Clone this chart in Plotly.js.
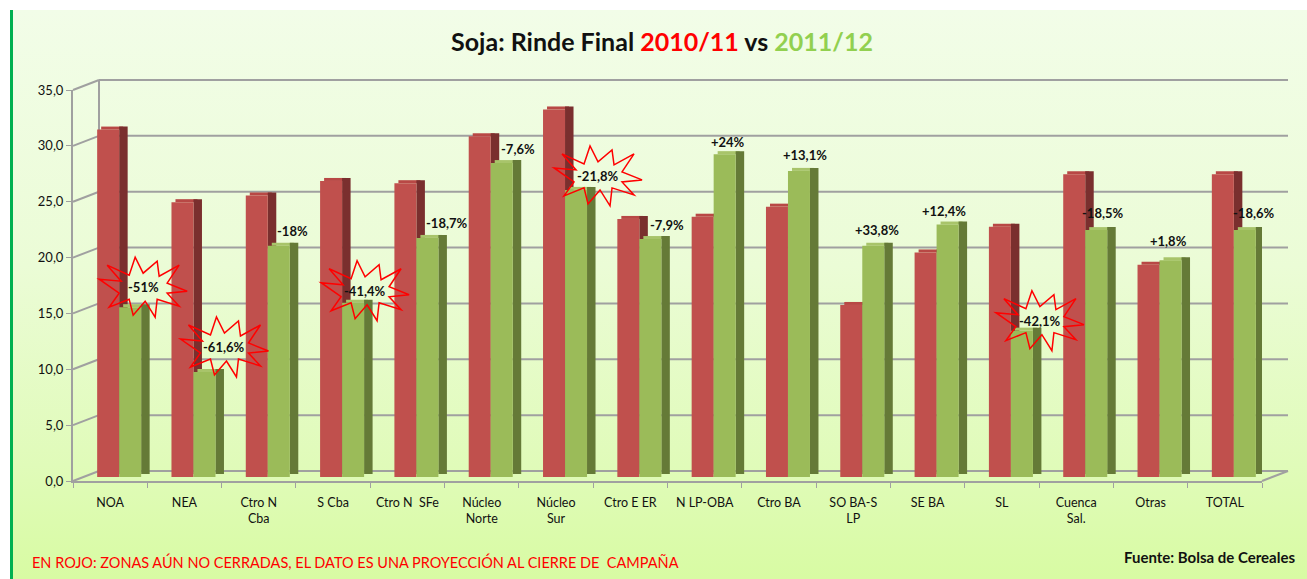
<!DOCTYPE html>
<html>
<head>
<meta charset="utf-8">
<script src="https://cdn.plot.ly/plotly-3.0.1.min.js"></script>
<style>
  html, body { margin: 0; padding: 0; background: #ffffff; }
  #wrap { position: relative; width: 1307px; height: 579px; background: #ffffff; overflow: hidden; }
  #bg { position: absolute; left: 10px; top: 10px; width: 1297px; height: 569px;
        border-left: 3px solid #00b050; box-sizing: border-box;
        background: linear-gradient(to bottom, #f2fde8 0%, #ebfcd6 45%, #e0fbb9 80%, #d8fba3 100%); }
  #chart { position: absolute; left: 0; top: 0; width: 1307px; height: 579px; }
</style>
</head>
<body>
<div id="wrap"><div id="bg"></div><div id="chart"></div></div>
<script>
// ---- data ----
const categories = ['NOA', 'NEA', 'Ctro N<br>Cba', 'S Cba', 'Ctro N  SFe', 'Núcleo<br>Norte', 'Núcleo<br>Sur',
  'Ctro E ER', 'N LP-OBA', 'Ctro BA', 'SO BA-S<br>LP', 'SE BA', 'SL', 'Cuenca<br>Sal.', 'Otras', 'TOTAL'];
const rinde2010_11 = [31.1, 24.6, 25.2, 26.5, 26.3, 30.5, 32.9, 23.1, 23.3, 24.2, 15.4, 20.1, 22.4, 27.1, 19.0, 27.1];
const rinde2011_12 = [15.2, 9.4, 20.7, 15.6, 21.4, 28.1, 25.7, 21.3, 28.9, 27.4, 20.7, 22.6, 13.1, 22.1, 19.4, 22.1];
const variacion = ['-51%', '-61,6%', '-18%', '-41,4%', '-18,7%', '-7,6%', '-21,8%', '-7,9%', '+24%', '+13,1%',
  '+33,8%', '+12,4%', '-42,1%', '-18,5%', '+1,8%', '-18,6%'];
const yTicks = [0, 5, 10, 15, 20, 25, 30, 35];
const yTickText = ['0,0', '5,0', '10,0', '15,0', '20,0', '25,0', '30,0', '35,0'];

// ---- layout tuning (pixels), not data ----
const labelDx = [33, 40, 34, 32, 40, 36, 42, 37, 23, 26, 24, 16, 38, 27, 18, 29];
const labelDy = [20, 25, 15, 12, 15, 14, 14, 14, 12, 16, 16, 14, 10, 17, 19, 17];
const burstIdx = [0, 1, 3, 6, 12];

const L = 73, R = 1262, T = 90, B = 481;
const W = R - L, H = B - T;
const pxPerCat = W / categories.length;
const pxPerUnit = H / 35;
const depthPx = 8.5, depthUpPx = 3;
const du = depthUpPx / pxPerUnit;
const cu = px => px / pxPerCat;

const xs = categories.map((c, i) => i);

function faces(vals, frontOff, front, side, top, name) {
  const fw = cu(22);
  return [
    { type: 'bar', x: xs, y: vals.map(() => du), base: vals, offset: frontOff + cu(4), width: fw,
      marker: { color: top, line: { width: 0 } }, yaxis: 'y2', hoverinfo: 'skip', showlegend: false },
    { type: 'bar', x: xs, y: vals, base: vals.map(() => du), offset: frontOff + fw, width: cu(depthPx),
      marker: { color: side, line: { width: 0 } }, yaxis: 'y2', hoverinfo: 'skip', showlegend: false },
    { type: 'bar', x: xs, y: vals, offset: frontOff, width: fw, name: name,
      marker: { color: front, line: { width: 0 } }, yaxis: 'y2', showlegend: false }
  ];
}

const data = [
  // invisible helper so the main y axis carries data and draws its labels
  { type: 'scatter', x: [0, 0], y: [0, 35], mode: 'markers', marker: { opacity: 0 }, hoverinfo: 'skip', showlegend: false },
  ...faces(rinde2010_11, cu(-13), '#c0504d', '#7a2f2e', '#b84845', '2010/11'),
  ...faces(rinde2011_12, cu(9), '#9bbb59', '#657a37', '#a8c46a', '2011/12')
];

// 3D frame (back wall) as shapes
const dxp = 26 / W, dyp = 10 / H;
const frameLine = { color: '#a0a0a0', width: 2 };
const shapes = [];
yTicks.forEach(v => {
  shapes.push({ type: 'line', xref: 'paper', yref: 'paper', x0: dxp, x1: 1 + dxp, y0: v / 35 + dyp, y1: v / 35 + dyp, line: frameLine, layer: 'below' });
  shapes.push({ type: 'line', xref: 'paper', yref: 'paper', x0: 0, x1: dxp, y0: v / 35, y1: v / 35 + dyp, line: frameLine, layer: 'below' });
});
shapes.push({ type: 'line', xref: 'paper', yref: 'paper', x0: dxp, x1: dxp, y0: dyp, y1: 1 + dyp, line: frameLine, layer: 'below' });
shapes.push({ type: 'line', xref: 'paper', yref: 'paper', x0: 1, x1: 1 + dxp, y0: 0, y1: dyp, line: frameLine, layer: 'below' });

// starbursts around selected labels
const star = [[-44, 8], [-22, 6], [-36, 22], [-14, 12], [-8, 30], [0, 14], [14, 26], [16, 11], [36, 22], [24, 4],
  [44, -4], [24, -6], [36, -19], [14, -12], [12, -30], [2, -14], [-10, -28], [-14, -12], [-34, -20], [-24, -6]];
burstIdx.forEach(i => {
  const cx = labelDx[i], cy = labelDy[i];
  const path = 'M' + star.map(p => (cx + p[0]) + ',' + (cy + p[1])).join(' L') + ' Z';
  shapes.push({ type: 'path', xref: 'x', yref: 'y2', xsizemode: 'pixel', ysizemode: 'pixel',
    xanchor: i, yanchor: rinde2011_12[i], path: path, line: { color: '#ff0000', width: 1.5 }, fillcolor: 'rgba(0,0,0,0)' });
});

const annotations = variacion.map((t, i) => ({
  x: i, y: rinde2011_12[i], xref: 'x', yref: 'y2', text: '<b>' + t + '</b>', showarrow: false,
  xshift: labelDx[i], yshift: labelDy[i], xanchor: 'center', yanchor: 'middle',
  font: { family: 'Lato, sans-serif', size: 13, color: '#111' }
}));
annotations.push({
  xref: 'paper', yref: 'paper', x: (30 - L) / W, y: (B - 562) / H, xanchor: 'left', yanchor: 'middle', showarrow: false,
  text: 'EN ROJO: ZONAS AÚN NO CERRADAS, EL DATO ES UNA PROYECCIÓN AL CIERRE DE  CAMPAÑA',
  font: { family: 'Lato, sans-serif', size: 14.5, color: '#ff0000' }
});
annotations.push({
  xref: 'paper', yref: 'paper', x: (1297 - L) / W, y: (B - 557) / H, xanchor: 'right', yanchor: 'middle', showarrow: false,
  text: '<b>Fuente: Bolsa de Cereales</b>',
  font: { family: 'Lato, sans-serif', size: 15, color: '#111' }
});

const layout = {
  width: 1307, height: 579,
  margin: { l: L, r: 1307 - R, t: T, b: 579 - B, pad: 0 },
  paper_bgcolor: 'rgba(0,0,0,0)', plot_bgcolor: 'rgba(0,0,0,0)',
  separators: ',.',
  barmode: 'overlay',
  title: {
    text: '<b>Soja: Rinde Final <span style="color:#ff0000">2010/11</span> vs <span style="color:#92d050">2011/12</span></b>',
    x: 662 / 1307, xref: 'container', xanchor: 'center', y: 1 - 42 / 579, yref: 'container', yanchor: 'middle',
    font: { family: 'Lato, sans-serif', size: 25, color: '#111' }
  },
  xaxis: {
    type: 'category', tickmode: 'array', tickvals: xs, ticktext: categories,
    range: [-0.5, categories.length - 0.5], showgrid: false, zeroline: false,
    showline: true, linecolor: '#a0a0a0', linewidth: 2,
    ticks: 'outside', tickson: 'boundaries', ticklen: 5, tickcolor: '#a0a0a0', tickwidth: 1,
    ticklabelstandoff: 9,
    tickfont: { family: 'Lato, sans-serif', size: 12.5, color: '#111' }
  },
  yaxis: {
    range: [0, 35], tickmode: 'array', tickvals: yTicks, ticktext: yTickText, showticklabels: true,
    showgrid: false, zeroline: false,
    showline: true, linecolor: '#a0a0a0', linewidth: 2,
    ticks: 'outside', ticklen: 5, tickcolor: '#a0a0a0', tickwidth: 1,
    tickfont: { family: 'Lato, sans-serif', size: 13, color: '#111' }, fixedrange: true
  },
  yaxis2: {
    overlaying: 'y', range: [-4 / pxPerUnit, 35 - 4 / pxPerUnit], visible: false, showgrid: false, zeroline: false
  },
  shapes: shapes,
  annotations: annotations,
  showlegend: false
};

Plotly.newPlot('chart', data, layout, { displayModeBar: false, staticPlot: true });
</script>
</body>
</html>
